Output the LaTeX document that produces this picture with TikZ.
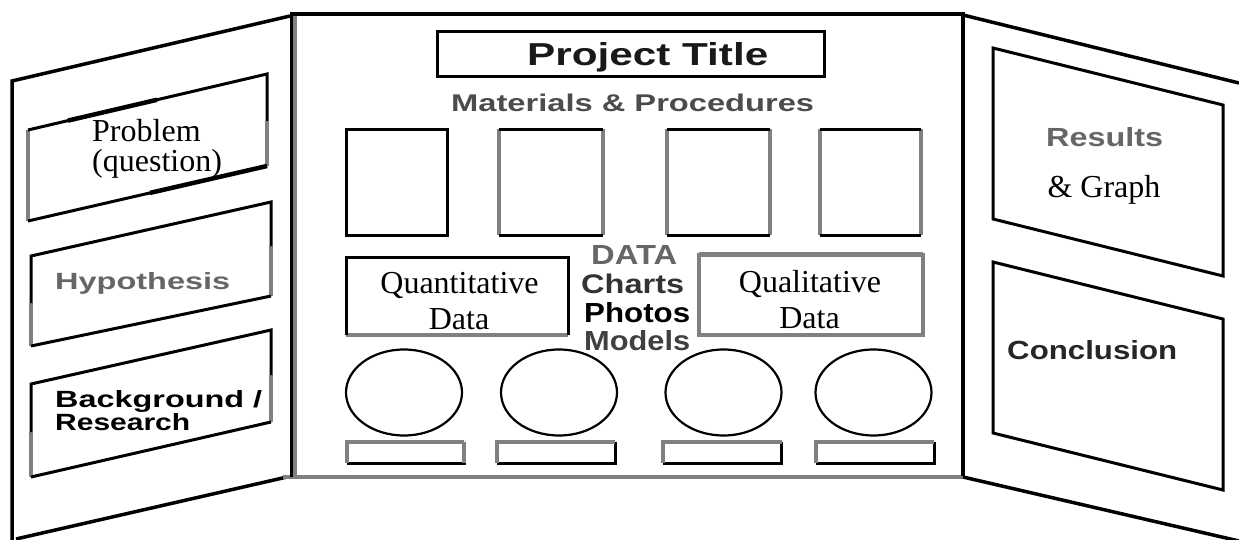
\documentclass[tikz,border=0pt]{standalone}
\usepackage{fontspec}
\usepackage{graphicx}
\setmainfont{Liberation Serif}
\newfontfamily\arialf{Liberation Sans}
\newcommand\fitS[3]{\resizebox{#1pt}{#2pt}{#3}}
\begin{document}
\begin{tikzpicture}[x=1pt,y=-1pt,
  outerln/.style={draw=black,line width=3.5pt,line cap=square},
  blk/.style={draw=black,line width=3pt,line cap=square},
  gry/.style={draw=black!50,line width=4pt,line cap=square},
  thk/.style={draw=black,line width=4.5pt},
  ellln/.style={draw=black,line width=2.2pt},
  serif/.style={font=\fontsize{32}{36}\selectfont,inner sep=0pt,anchor=base},
  sanslbl/.style={inner sep=0pt,anchor=base west,font=\arialf\bfseries}]
\useasboundingbox (0,0) rectangle (1239,540);

% ---------- left panel ----------
\draw[outerln] (290,16) -- (12,81) -- (12,540);
\draw[outerln] (287,477) -- (16,539);

% Problem box
\draw[gry] (28,221) -- (28,130);
\draw[gry] (267,121) -- (267,166);
\draw[blk] (28,130) -- (267,74) -- (267,121);
\draw[blk] (267,166) -- (28,221);
\draw[thk] (68,120.6) -- (157,99.8);
\draw[thk] (150,192.9) -- (267,166);

% Hypothesis box
\draw[gry] (31,303) -- (31,346);
\draw[gry] (271,246) -- (271,296);
\draw[blk] (31,303) -- (31,256) -- (271,202) -- (271,246);
\draw[blk] (271,296) -- (31,346);

% Background box
\draw[gry] (31,432) -- (31,477);
\draw[gry] (271,375) -- (271,422);
\draw[blk] (31,432) -- (31,384) -- (271,330) -- (271,375);
\draw[blk] (271,422) -- (31,477);

% ---------- central panel ----------
\draw[black!50,line width=3.3pt] (295,16) -- (295,475);
\draw[black!50,line width=4pt] (283,476.5) -- (963,476.5);
\draw[black,line width=3.3pt] (291.7,12.5) -- (291.7,477);
\draw[outerln] (291.7,14) -- (963,14) -- (963,476);

% title box
\draw[blk] (437,32) rectangle (824,77);

% squares
\draw[blk] (346,129.5) rectangle (447,235);
\foreach \a/\b in {499/602.5,666.5/769.5,819.5/921}{
  \draw[gry] (\a,129.5) -- (\a,235);
  \draw[gry] (\b,129.5) -- (\b,235);
  \draw[blk] (\a,129.5) -- (\b,129.5);
  \draw[blk] (\a,235) -- (\b,235);
}

% quantitative box
\draw[gry] (346,335) -- (568,335);
\draw[blk] (346,335) -- (346,257) -- (568,257) -- (568,335);

% qualitative box
\draw[gry] (699,254.5) rectangle (923,335);
\draw[draw=black!50,line width=5pt] (699,254.5) -- (923,254.5);

% ellipses
\foreach \cx in {404,559,723.5,873.5}{
  \draw[ellln] (\cx,392.5) ellipse [x radius=58, y radius=43];
}

% bottom rectangles
\foreach \a/\b in {346.5/464,496.5/615,663/781.5,816/934}{
  \draw[blk] (\b,441.5) -- (\b,463) -- (\a,463);
  \draw[gry] (\a,463) -- (\a,441.5) -- (\b,441.5);
}
\draw[gry] (464,441.5) -- (464,463);

% ---------- right panel ----------
\draw[outerln] (963,15) -- (1239,83);
\draw[outerln] (963,477) -- (1239,541);
\draw[blk] (993,48) -- (1223,105) -- (1223,276) -- (993,219) -- cycle;
\draw[blk] (993,262) -- (1223,319) -- (1223,490) -- (993,433) -- cycle;

% ---------- texts ----------
\node[serif,anchor=base west] (prob1) at (92,142) {Problem};
\node[serif,anchor=base west] (prob2) at (92,172) {(question)};
\node[sanslbl,text=black!60] (hyp) at (55,289) {\fitS{175}{17}{Hypothesis}};
\node[sanslbl] (back1) at (55,407) {\fitS{207}{17}{Background /}};
\node[sanslbl] (back2) at (55,430) {\fitS{135}{17}{Research}};

\node[sanslbl,text=black!90] (title) at (527,66) {\fitS{241}{23}{Project Title}};
\node[sanslbl,text=black!70] (mat) at (451,112) {\fitS{363}{17.5}{Materials \& Procedures}};

\node[serif] (quant1) at (459.5,293) {Quantitative};
\node[serif] (quant2) at (459,329) {Data};
\node[serif] (qual1) at (810,292) {Qualitative};
\node[serif] (qual2) at (809.5,328) {Data};

\node[sanslbl,text=black!60] (data) at (591,264) {\fitS{86}{19}{DATA}};
\node[sanslbl,text=black!80] (charts) at (581,293) {\fitS{103}{19.5}{Charts}};
\node[sanslbl] (photos) at (584,322) {\fitS{106}{20}{Photos}};
\node[sanslbl,text=black!75] (models) at (584,350) {\fitS{106}{20}{Models}};

\node[sanslbl,text=black!60] (res) at (1046,147) {\fitS{117}{19}{Results}};
\node[serif] (graph) at (1104,198) {\& Graph};
\node[sanslbl,text=black!85] (conc) at (1007,359) {\fitS{170}{19}{Conclusion}};
\end{tikzpicture}
\end{document}
